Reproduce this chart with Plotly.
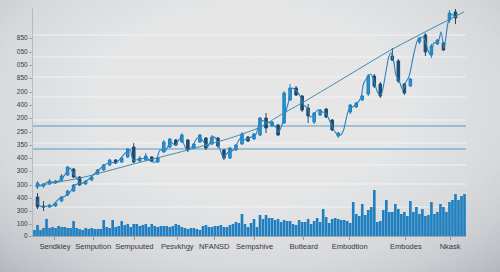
import plotly.graph_objects as go

# ---------------- data ----------------
day = list(range(144))
volume = [6,11,6,8,17,8,9,8,10,9,9,8,8,15,8,7,6,8,7,8,7,7,7,16,9,8,16,9,10,15,11,12,9,12,12,10,11,12,9,12,10,9,10,
          10,10,9,10,12,11,9,8,7,8,
          8,7,6,10,11,9,9,10,10,11,
          9,9,11,12,14,13,22,12,9,13,
          17,9,21,17,21,18,18,16,17,14,
          16,15,15,12,11,16,14,14,17,12,
          15,18,14,27,19,13,17,18,17,16,
          16,15,13,34,22,20,32,21,26,29,
          46,14,15,26,36,24,24,32,27,22,
          24,20,35,24,29,22,27,20,21,34,
          22,24,32,29,24,34,36,42,36,40,42]

# upper-left short series
upper_x = [0.8,2.5,4.2,5.8,7.5,9.5,11.2,11.8,12.8,14.5,15.2]
upper_y = [53,50,54,54,54,59,66,68,63,56,51]
# lower-left short series
lower_x = [0.8,2.5,4.2,5.8,6.8,8.5,10.2,11.8,13.5,15.2]
lower_y = [34,29,30,30,33,38,40,44,51,53]
# main path
main_x = [15.2,16.8,18.5,19.5,22.5,25.2,26.8,28.5,30.2,31.8,32.8,35.2,37.5,38.5,40.2,41.8,43.5,45.2,46.8,48.5,
          49.5,50.8,52.5,54.2,55.8,57.5,59.2,60.2,61.2,62.8,64.5,66.2,68.5,69.5,71.2,73.5,75.2,76.8,78.5,80.2,
          81.2,82.8,84.2,85.8,86.8,88.5,89.5,90.8,91.8,92.8,94.2,95.8,96.8,98.5,100.2,101.8,102.8,104.5,105.8,106.8,
          108.5,109.5,110.8,111.8,112.8,114.2,115.2,116.8,117.8,118.5,119.5,120.2,121.2,122.5,123.5,124.5,126.2,127.5,129.2,130.2,
          130.8,131.8,132.8,134.2,135.2,136.2,137.5,138.5,139.5]
main_y = [52,54,58,61,69,74,73,77,83,86,76,77,78,75,74,86,85,94,91,98,
          93,86,90,98,96,89,99,98,91,79,84,86,98,96,98,101,116,114,113,109,
          104,116,131,148,146,139,131,128,119,121,126,124,123,113,103,101,106,126,129,131,
          138,153,159,162,156,143,141,163,179,183,174,161,156,146,154,159,183,196,199,193,
          186,181,193,194,204,188,213,221,221]
# trend line
trend_x = [0.2,15.2,34.2,48.5,65.2,75.2,81.8,89.5,101.8,118.5,142.8]
trend_y = [50,58,73,84,98,109,121,134,156,186,224]

# candles
candle_x = [1,3,5,7,9,11,13,15,
            1,3,5,7,9,11,13,
            17,19,21,23,25,27,29,31,33,35,37,39,41,43,45,47,49,51,53,55,57,59,61,63,65,67,69,71,73,75,77,79,81,83,85,87,
            89,91,93,95,97,99,101,105,107,109,111,113,115,119,121,123,125,128,130,132,134,136,138,140]
candle_open = [49,50,52,53,56,61,67,59,
               39,30,29,30,35,41,45,
               52,56,62,66,71,76,74,79,89,75,76,79,74,84,89,96,94,96,88,94,98,92,98,86,78,86,92,99,97,101,118,110,111,113,136,148,
               140,128,114,121,127,116,100,124,129,136,142,160,152,180,175,152,150,194,201,181,192,193,216,224]
candle_high = [55,53,57,56,62,70,68,60,
               43,35,32,34,40,46,52,
               56,60,67,72,77,77,79,88,93,80,83,80,79,96,98,97,103,97,93,102,99,101,99,87,89,92,104,100,103,119,123,115,112,145,152,150,
               141,132,124,127,128,117,104,132,134,141,162,162,154,188,177,153,158,199,203,192,197,194,226,227]
candle_low = [47,48,51,52,55,60,58,50,
              27,25,28,29,34,40,44,
              51,55,61,65,70,72,73,78,73,74,75,74,73,83,88,90,93,84,87,93,86,91,88,76,77,85,91,94,96,100,103,109,100,112,135,140,
              124,113,112,120,118,105,98,122,128,135,140,148,138,175,153,141,149,192,180,178,191,185,213,212]
candle_close = [53,52,55,55,60,69,59,51,
                29,29,31,33,39,45,51,
                55,59,66,71,76,73,78,87,74,78,80,75,78,94,97,91,101,86,92,101,88,99,90,78,88,91,102,95,102,118,108,114,101,143,148,141,
                126,120,123,126,119,106,103,131,133,140,160,150,140,176,155,143,157,198,184,190,196,186,223,218]

# axes labels
y_tickvals = [0,12,25,38,51,65,78,91,104,118,131,144,158,171,184,198]
y_ticktext = ["0","100","300","400","300","300","400","350","250","200","400","200","850","050","050","850"]
x_tickvals = [6.8,19.5,33.2,47.5,59.8,73.2,89.5,104.8,123.5,138.2]
x_ticktext = ["Sendkley","Sempution","Sempuuted","Pesvkhgy","NFANSD","Sempshive","Butteard","Embodtion","Embodes","Nkask"]

grid_levels = [201,179,159,139,116,93,71,52,29]
blue_levels = [110,87]

# ---------------- figure ----------------
fig = go.Figure()

# vignette background (many faint concentric ellipses -> smooth radial gradient)
n_layers = 40
for k in range(n_layers):
    r = 1.05 - k * 0.024
    fig.add_shape(type="circle", xref="paper", yref="paper",
                  x0=0.5 - r * 0.8, x1=0.5 + r * 0.8, y0=0.58 - r * 0.95, y1=0.58 + r * 0.95,
                  line=dict(width=0), fillcolor="rgba(236,239,243,0.075)", layer="below")

for g in grid_levels:
    fig.add_hline(y=g, line=dict(color="rgba(246,248,251,0.8)", width=1), layer="below")
for b in blue_levels:
    fig.add_hline(y=b, line=dict(color="#5799c2", width=1), layer="below")

fig.add_trace(go.Bar(x=day, y=volume, marker=dict(color="#1f7fc0", line=dict(width=0)), showlegend=False))

line_style = dict(color="#2f82b6", width=1.1, shape="spline", smoothing=0.8)
fig.add_trace(go.Scatter(x=trend_x, y=trend_y, mode="lines", line=dict(color="#4588ae", width=1, shape="spline", smoothing=0.6), showlegend=False))
fig.add_trace(go.Scatter(x=upper_x, y=upper_y, mode="lines", line=line_style, showlegend=False))
fig.add_trace(go.Scatter(x=lower_x, y=lower_y, mode="lines", line=line_style, showlegend=False))
fig.add_trace(go.Scatter(x=main_x, y=main_y, mode="lines", line=line_style, showlegend=False))

fig.add_trace(go.Candlestick(x=candle_x, open=candle_open, high=candle_high, low=candle_low, close=candle_close,
                             increasing=dict(fillcolor="#2796d8", line=dict(color="#1f7fbf", width=1)),
                             decreasing=dict(fillcolor="#1f4b72", line=dict(color="#1e4a70", width=1)),
                             whiskerwidth=0, showlegend=False))

fig.update_layout(
    width=500, height=272,
    margin=dict(l=33, r=34, t=8, b=36),
    paper_bgcolor="#b2b6be",
    plot_bgcolor="rgba(0,0,0,0)",
    showlegend=False,
    bargap=0.12,
    boxgap=0.4,
    font=dict(family="Liberation Sans, Arial, sans-serif", size=7, color="#3a3f48"),
)
fig.update_xaxes(range=[-0.5, 143.5], rangeslider_visible=False, showgrid=False, zeroline=False,
                 tickvals=x_tickvals, ticktext=x_ticktext, ticks="outside", ticklen=3,
                 tickcolor="#8d939c", showline=True, linecolor="#a0a6ae", linewidth=1,
                 tickfont=dict(size=7.5, color="#33383f"))
fig.update_yaxes(range=[0, 228], showgrid=False, zeroline=False,
                 tickvals=y_tickvals, ticktext=y_ticktext, ticks="outside", ticklen=3,
                 tickcolor="#a0a6ae", showline=True, linecolor="rgba(160,166,175,0.6)", linewidth=1,
                 tickfont=dict(size=6.5, color="#33383f"))

fig.write_html("out.html")
